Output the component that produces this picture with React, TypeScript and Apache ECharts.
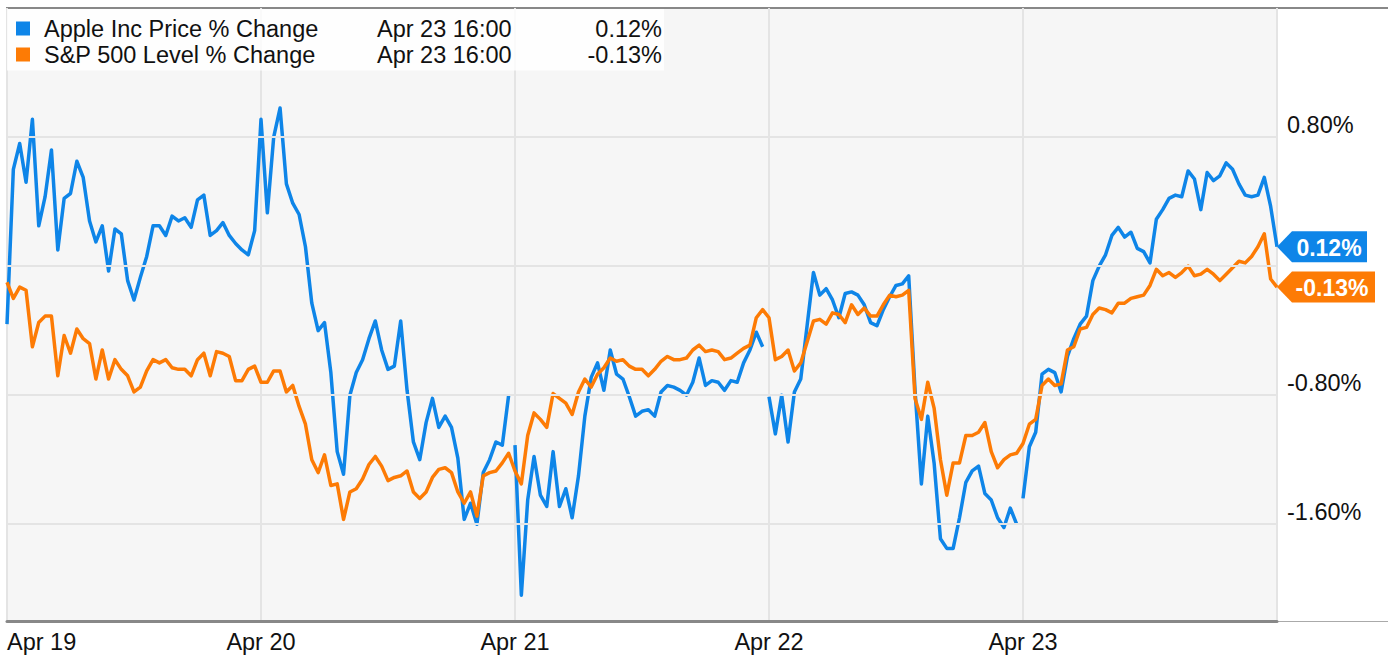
import React, { useEffect, useRef } from 'react'
import * as echarts from 'echarts'

// 10-minute steps from 9:30; the last day also carries the 16:00 close
const stepsPerDay = 40
const dayLabels = ['Apr 19', 'Apr 20', 'Apr 21', 'Apr 22', 'Apr 23']
const lastStamp = 'Apr 23 16:00'

const appleName = 'Apple Inc Price % Change'
const spxName = 'S&P 500 Level % Change'

const appleApr19 = [-0.36, 0.60, 0.76, 0.52, 0.91, 0.25, 0.43, 0.72, 0.10, 0.42, 0.45, 0.65, 0.55, 0.28, 0.15, 0.25, -0.03, 0.23, 0.20, -0.09, -0.21, -0.07, 0.06, 0.25, 0.25, 0.19, 0.31, 0.28, 0.30, 0.24, 0.41, 0.44, 0.19, 0.22, 0.27, 0.19, 0.14, 0.10, 0.07, 0.22]
const appleApr20 = [0.91, 0.33, 0.80, 0.98, 0.51, 0.39, 0.32, 0.12, -0.23, -0.40, -0.35, -0.66, -1.15, -1.29, -0.80, -0.66, -0.58, -0.45, -0.34, -0.52, -0.64, -0.62, -0.34, -0.77, -1.09, -1.20, -0.97, -0.82, -1.00, -0.93, -1.00, -1.19, -1.57, -1.47, -1.60, -1.28, -1.20, -1.09, -1.11, -0.80]
const appleApr21 = [-1.11, -2.04, -1.45, -1.18, -1.42, -1.49, -1.15, -1.49, -1.38, -1.56, -1.30, -0.93, -0.69, -0.60, -0.77, -0.52, -0.67, -0.70, -0.81, -0.93, -0.90, -0.89, -0.93, -0.78, -0.74, -0.75, -0.77, -0.80, -0.72, -0.57, -0.74, -0.71, -0.72, -0.77, -0.71, -0.72, -0.60, -0.52, -0.41, -0.50]
const appleApr22 = [-0.81, -1.04, -0.80, -1.09, -0.78, -0.70, -0.37, -0.04, -0.18, -0.14, -0.21, -0.32, -0.17, -0.16, -0.18, -0.24, -0.35, -0.37, -0.27, -0.19, -0.12, -0.11, -0.06, -0.77, -1.35, -0.93, -1.22, -1.69, -1.75, -1.75, -1.56, -1.34, -1.27, -1.24, -1.41, -1.45, -1.56, -1.62, -1.50, -1.60]
const appleApr23 = [-1.44, -1.12, -1.03, -0.67, -0.64, -0.66, -0.78, -0.56, -0.45, -0.36, -0.31, -0.09, 0.00, 0.07, 0.19, 0.24, 0.18, 0.21, 0.11, 0.09, 0.02, 0.29, 0.35, 0.42, 0.44, 0.43, 0.59, 0.54, 0.35, 0.58, 0.53, 0.56, 0.64, 0.60, 0.51, 0.44, 0.43, 0.44, 0.55, 0.37, 0.12]
// Apple's line is broken at the open of these days
const appleBreaks = [2, 3, 4]

const spxApr19 = [-0.10, -0.20, -0.13, -0.15, -0.50, -0.35, -0.31, -0.31, -0.68, -0.43, -0.54, -0.39, -0.45, -0.48, -0.70, -0.52, -0.70, -0.58, -0.64, -0.68, -0.78, -0.75, -0.65, -0.58, -0.60, -0.58, -0.63, -0.64, -0.64, -0.68, -0.58, -0.54, -0.68, -0.53, -0.54, -0.56, -0.71, -0.71, -0.64, -0.62]
const spxApr20 = [-0.72, -0.72, -0.65, -0.65, -0.78, -0.74, -0.87, -0.98, -1.20, -1.28, -1.17, -1.36, -1.35, -1.57, -1.40, -1.38, -1.32, -1.23, -1.18, -1.24, -1.33, -1.31, -1.30, -1.27, -1.40, -1.44, -1.40, -1.31, -1.26, -1.25, -1.28, -1.40, -1.47, -1.40, -1.55, -1.30, -1.28, -1.27, -1.22, -1.16]
const spxApr21 = [-1.27, -1.35, -1.05, -0.91, -0.95, -1.00, -0.79, -0.82, -0.85, -0.92, -0.78, -0.70, -0.75, -0.67, -0.63, -0.57, -0.59, -0.58, -0.62, -0.64, -0.64, -0.68, -0.64, -0.59, -0.56, -0.58, -0.58, -0.57, -0.52, -0.49, -0.53, -0.52, -0.53, -0.58, -0.57, -0.54, -0.51, -0.49, -0.32, -0.27]
const spxApr22 = [-0.32, -0.58, -0.56, -0.52, -0.65, -0.60, -0.47, -0.34, -0.33, -0.36, -0.29, -0.30, -0.35, -0.24, -0.30, -0.26, -0.31, -0.31, -0.24, -0.18, -0.19, -0.18, -0.15, -0.82, -0.95, -0.72, -0.88, -1.20, -1.42, -1.22, -1.22, -1.05, -1.05, -1.03, -0.97, -1.15, -1.25, -1.20, -1.17, -1.16]
const spxApr23 = [-1.10, -0.98, -0.95, -0.74, -0.70, -0.74, -0.73, -0.52, -0.50, -0.39, -0.38, -0.30, -0.26, -0.27, -0.29, -0.23, -0.23, -0.20, -0.19, -0.18, -0.12, -0.02, -0.06, -0.04, -0.07, -0.04, 0.00, -0.06, -0.05, -0.02, -0.05, -0.09, -0.05, -0.01, 0.03, 0.02, 0.06, 0.12, 0.20, -0.08, -0.13]

const yGridValues = [0.8, 0, -0.8, -1.6]
const yLabelValues = [0.8, -0.8, -1.6]

const FONT = '"Liberation Sans", Arial, Helvetica, sans-serif'
const BLUE = '#0e85e8'
const ORANGE = '#fd7b05'
const GRID_LINE = '#e4e4e4'

const buildSeries = (days: number[][], breaks: number[]) => {
  const out: (number | null)[][] = []
  days.forEach((vals, d) => {
    if (breaks.includes(d)) out.push([d, null])
    vals.forEach((v, i) => out.push([d + i / stepsPerDay, v]))
  })
  return out
}

const appleDays = [appleApr19, appleApr20, appleApr21, appleApr22, appleApr23]
const spxDays = [spxApr19, spxApr20, spxApr21, spxApr22, spxApr23]
const appleLast = appleApr23[appleApr23.length - 1]
const spxLast = spxApr23[spxApr23.length - 1]

const flag = (color: string, w: number, last: number, textShift: number) => ({
  silent: true,
  symbol: `path://M0,15.5L15,0L${w},0L${w},31L15,31Z`,
  symbolSize: [w, 31],
  symbolKeepAspect: false,
  symbolOffset: [w / 2, 0],
  itemStyle: { color },
  label: {
    show: true,
    position: 'inside',
    offset: [textShift, 1],
    color: '#fff',
    fontWeight: 'bold',
    fontSize: 23,
    fontFamily: FONT,
    formatter: (p: any) => `${Number(p.value).toFixed(2)}%`
  },
  data: [{ coord: [dayLabels.length, last], value: last }]
})

const legendCell = { fontSize: 23.5, lineHeight: 26, color: '#111', fontFamily: FONT }

const App: React.FC = () => {
  const chartRef = useRef<HTMLDivElement>(null)

  useEffect(() => {
    if (!chartRef.current) return
    const chart = echarts.init(chartRef.current, undefined, { renderer: 'svg' })

    const option = {
      animation: false,
      textStyle: { fontFamily: FONT },
      grid: {
        left: 7,
        right: 111,
        top: 8,
        bottom: 45,
        show: true,
        backgroundColor: '#f6f6f6',
        borderColor: '#888',
        borderWidth: 2
      },
      legend: {
        data: [appleName, spxName],
        orient: 'vertical',
        left: 7,
        top: 9,
        padding: [6.5, 2, 3, 9],
        itemGap: 0,
        itemWidth: 14,
        itemHeight: 14,
        icon: 'rect',
        backgroundColor: 'rgba(255,255,255,0.82)',
        selectedMode: false,
        formatter: (name: string) => {
          const last = name === appleName ? appleLast : spxLast
          return `{s| }{n|${name}}{d|${lastStamp}}{v|${last.toFixed(2)}%}`
        },
        textStyle: {
          ...legendCell,
          rich: {
            s: { ...legendCell, width: 9 },
            n: { ...legendCell, width: 333 },
            d: { ...legendCell, width: 145 },
            v: { ...legendCell, width: 140, align: 'right' }
          }
        }
      },
      xAxis: {
        type: 'value',
        min: 0,
        max: dayLabels.length,
        interval: 1,
        axisLine: { show: true, onZero: false, lineStyle: { color: '#888', width: 3 } },
        axisTick: { show: false },
        splitLine: { show: true, lineStyle: { color: GRID_LINE, width: 2 } },
        axisLabel: {
          color: '#111',
          fontSize: 23.5,
          margin: 9,
          alignMinLabel: 'left',
          formatter: (v: number) => dayLabels[Math.round(v)] ?? ''
        }
      },
      yAxis: {
        type: 'value',
        position: 'right',
        min: -2.2,
        max: 1.6,
        interval: 0.2,
        axisLine: { show: false },
        axisTick: { show: false },
        splitLine: { show: false },
        axisLabel: {
          color: '#111',
          fontSize: 23.5,
          margin: 10,
          align: 'left',
          verticalAlign: 'bottom',
          formatter: (v: number) =>
            yLabelValues.some((t) => Math.abs(t - v) < 1e-6) ? `${v.toFixed(2)}%` : ''
        }
      },
      graphic: [
        {
          type: 'line',
          silent: true,
          shape: { x1: 7, y1: 8, x2: 1388, y2: 8 },
          style: { stroke: '#888', lineWidth: 2 }
        },
        {
          type: 'line',
          silent: true,
          shape: { x1: 1277, y1: 621.5, x2: 1388, y2: 621.5 },
          style: { stroke: '#aaa', lineWidth: 1 }
        }
      ],
      series: [
        {
          name: 'grid',
          type: 'line',
          data: [],
          z: 1,
          silent: true,
          markLine: {
            silent: true,
            symbol: 'none',
            label: { show: false },
            lineStyle: { color: GRID_LINE, width: 2, type: 'solid' },
            data: yGridValues.map((v) => ({ yAxis: v }))
          }
        },
        {
          name: appleName,
          type: 'line',
          data: buildSeries(appleDays, appleBreaks),
          showSymbol: false,
          symbol: 'none',
          connectNulls: false,
          clip: false,
          z: 3,
          itemStyle: { color: BLUE },
          lineStyle: { color: BLUE, width: 3.5, join: 'round' },
          markPoint: flag(BLUE, 90, appleLast, 7)
        },
        {
          name: spxName,
          type: 'line',
          data: buildSeries(spxDays, []),
          showSymbol: false,
          symbol: 'none',
          clip: false,
          z: 4,
          itemStyle: { color: ORANGE },
          lineStyle: { color: ORANGE, width: 3.5, join: 'round' },
          markPoint: flag(ORANGE, 98, spxLast, 6)
        }
      ]
    }

    chart.setOption(option as any)

    const handleResize = () => chart.resize()
    window.addEventListener('resize', handleResize)
    return () => {
      window.removeEventListener('resize', handleResize)
      chart.dispose()
    }
  }, [])

  return (
    <div
      ref={chartRef}
      style={{ position: 'absolute', left: 0, top: 0, width: 1388, height: 666 }}
    />
  )
}

export default App
